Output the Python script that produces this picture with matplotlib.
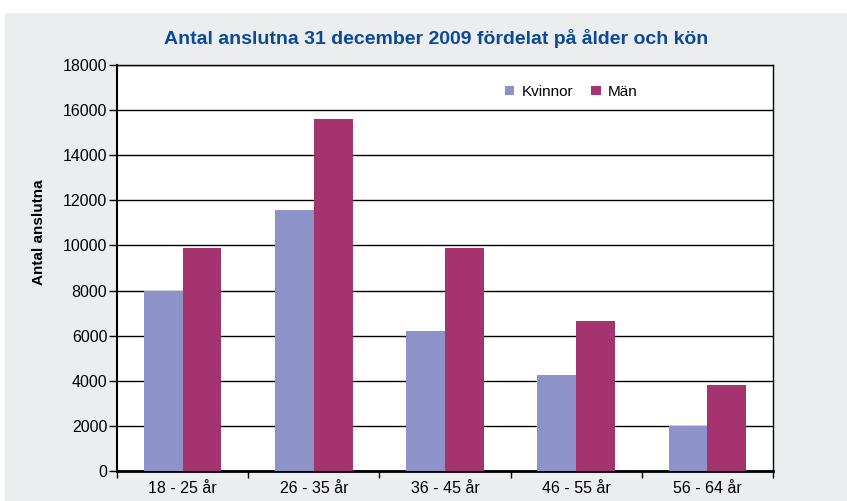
import numpy as np
import matplotlib.pyplot as plt
from matplotlib.patches import Rectangle

# data
age_groups = ['18 - 25 år', '26 - 35 år', '36 - 45 år', '46 - 55 år', '56 - 64 år']
kvinnor = [8000, 11550, 6200, 4250, 2000]
man = [9900, 15600, 9900, 6650, 3800]

W, H = 847, 501
fig = plt.figure(figsize=(W / 100, H / 100), dpi=100, facecolor='white')
plt.rcParams['font.family'] = ['Liberation Sans', 'DejaVu Sans']

# grey panel behind the chart
fig.patches.append(Rectangle((5 / W, 0), 1 - 5 / W, (H - 13) / H,
                             transform=fig.transFigure, facecolor='#ECEDEF',
                             edgecolor='none', zorder=-5))

ax = fig.add_axes([117 / W, (H - 471) / H, (773 - 117) / W, (471 - 65) / H])
ax.set_facecolor('white')

x = np.arange(len(age_groups))
w = 0.295
ax.bar(x - w / 2, kvinnor, width=w, color='#8D92C8', label='Kvinnor', zorder=3)
ax.bar(x + w / 2, man, width=w, color='#A5336F', label='Män', zorder=3)

ax.set_xlim(-0.5, len(age_groups) - 0.5)
ax.set_ylim(0, 18000)
ax.set_yticks(np.arange(0, 18001, 2000))
ax.yaxis.grid(True, color='black', linewidth=1.0, zorder=1)
ax.set_axisbelow(True)

# category labels centred, ticks on the boundaries
ax.set_xticks(x)
ax.set_xticklabels(age_groups, fontsize=11.5)
ax.tick_params(axis='x', which='major', length=0, pad=7)
ax.set_xticks(np.arange(-0.5, len(age_groups)), minor=True)
ax.tick_params(axis='x', which='minor', length=5, width=1, direction='out')
ax.tick_params(axis='y', labelsize=11.5, length=6, width=1, direction='out', pad=1)

for s in ax.spines.values():
    s.set_color('black')
    s.set_linewidth(1.0)
ax.spines['bottom'].set_linewidth(2.0)
ax.spines['left'].set_linewidth(1.5)

ax.set_ylabel('Antal anslutna', fontsize=11, fontweight='bold')
ax.yaxis.set_label_coords(-0.1075, 0.589)

fig.text(0.515, (H - 38) / H, 'Antal anslutna 31 december 2009 fördelat på ålder och kön',
         ha='center', va='center', fontsize=14, fontweight='bold', color='#0A4A96')

ax.legend(loc='upper left', bbox_to_anchor=(0.57, 0.985), ncol=2, frameon=False,
          fontsize=11, handlelength=0.6, handleheight=0.6, handletextpad=0.5,
          columnspacing=1.2)

fig.savefig('out.png', dpi=100, facecolor=fig.get_facecolor())
